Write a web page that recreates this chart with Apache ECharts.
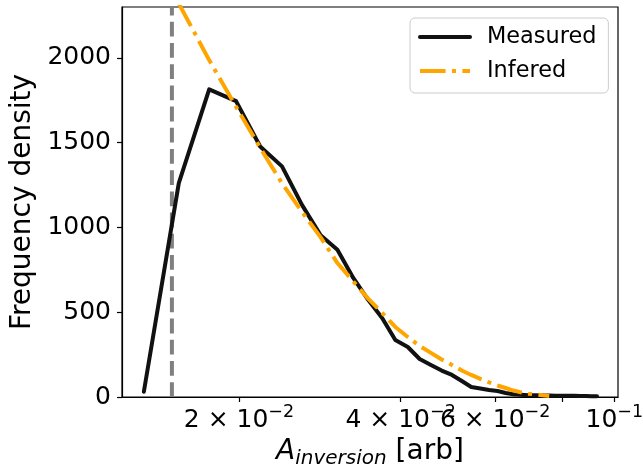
<!DOCTYPE html>
<html>
<head>
<meta charset="utf-8">
<script src="https://cdn.jsdelivr.net/npm/echarts@6/dist/echarts.min.js"></script>
<style>
  html, body { margin: 0; padding: 0; background: #fff; }
  #chart { width: 643px; height: 466px; }
</style>
</head>
<body>
<div id="chart"></div>
<script>
// Histogram bin centres (linear bins, shown on a log axis)
const binCentres = [
  0.0133, 0.01545, 0.0176, 0.01975, 0.0219, 0.02405, 0.0262, 0.02835, 0.0305, 0.03265,
  0.0348, 0.03695, 0.0391, 0.04125, 0.0434, 0.04555, 0.0477, 0.04985, 0.052, 0.05415,
  0.0563, 0.05845, 0.0606, 0.06275, 0.0649, 0.06705, 0.0692, 0.07135, 0.0735, 0.07565,
  0.0778, 0.07995, 0.0821, 0.08425, 0.0864, 0.08855, 0.0907, 0.09285
];

// Measured frequency density per bin
const measured = [
  31, 1261, 1814, 1745, 1477, 1360, 1133, 956, 868, 702,
  573, 466, 336, 295, 224, 189, 156, 130, 94, 59,
  50, 41, 35, 24, 16, 13, 11, 10, 9, 9,
  8, 8, 7, 7, 6, 6, 5, 5
];

// Inferred density, evaluated from the second bin onward
const inferred = [
  2320, 1987, 1712, 1470, 1260, 1092, 944, 790, 682, 580,
  496, 413, 354, 301, 260, 221, 189, 156, 130, 107,
  86, 68, 53, 38, 27, 19, 15, 10, 6
];
const inferredX = binCentres.slice(1, 1 + inferred.length);

// Detection threshold (vertical dashed line)
const threshold = 0.015;

// Axis ticks and labels
const xTickValues = [0.02, 0.04, 0.06, 0.08, 0.1];
const xLabelValues = [0.02, 0.04, 0.06, 0.1];
const xLabelParts = [['2 × 10', '−2'], ['4 × 10', '−2'], ['6 × 10', '−2'], ['10', '−1']];
const yTickValues = [0, 500, 1000, 1500, 2000];

const FONT = 'DejaVu Sans';

const chart = echarts.init(document.getElementById('chart'), null, { renderer: 'canvas' });

const axisLineStyle = { color: '#000', width: 1.2 };

chart.setOption({
  animation: false,
  backgroundColor: '#fff',
  grid: {
    left: 122, right: 25, top: 7, bottom: 69,
    outerBoundsMode: 'none',
    containLabel: false,
    show: true, borderColor: '#000', borderWidth: 1.2, backgroundColor: 'transparent'
  },
  xAxis: {
    type: 'log',
    logBase: 10,
    min: 0.01211,
    max: 0.1016,
    axisLine: { show: true, onZero: false, lineStyle: axisLineStyle },
    axisTick: { show: true, customValues: xTickValues, length: 5, lineStyle: axisLineStyle },
    minorTick: { show: false },
    splitLine: { show: false },
    axisLabel: {
      customValues: xLabelValues,
      margin: 6,
      hideOverlap: false,
      formatter: function (v) {
        const i = xLabelValues.findIndex(t => Math.abs(t - v) / t < 1e-6);
        if (i < 0) return '';
        return '{m|' + xLabelParts[i][0] + '}{s|' + xLabelParts[i][1] + '}';
      },
      rich: {
        m: { fontFamily: FONT, fontSize: 25, color: '#000', verticalAlign: 'bottom' },
        s: { fontFamily: FONT, fontSize: 17.5, color: '#000', verticalAlign: 'bottom', padding: [0, 0, 12, 0] }
      }
    },
    name: '{a|A}{sub|inversion}{r| [arb]}',
    nameLocation: 'middle',
    nameGap: 38,
    nameTextStyle: {
      rich: {
        a: { fontFamily: FONT, fontSize: 28, fontStyle: 'italic', color: '#000', verticalAlign: 'bottom', padding: [0, 0, 3, 0] },
        sub: { fontFamily: FONT, fontSize: 20, fontStyle: 'italic', color: '#000', verticalAlign: 'bottom' },
        r: { fontFamily: FONT, fontSize: 28, color: '#000', verticalAlign: 'bottom', padding: [0, 0, 3, 0] }
      }
    }
  },
  yAxis: {
    type: 'value',
    min: 0,
    max: 2300,
    axisLine: { show: true, onZero: false, lineStyle: axisLineStyle },
    axisTick: { show: true, customValues: yTickValues, length: 5, lineStyle: axisLineStyle },
    splitLine: { show: false },
    axisLabel: {
      customValues: yTickValues,
      margin: 11,
      fontFamily: FONT,
      fontSize: 25,
      color: '#000',
      formatter: v => String(v)
    },
    name: 'Frequency density',
    nameLocation: 'middle',
    nameGap: 80,
    nameTextStyle: { fontFamily: FONT, fontSize: 28, color: '#000' }
  },
  legend: {
    data: ['Measured', 'Infered'],
    orient: 'vertical',
    left: 410,
    top: 18,
    itemWidth: 50,
    itemHeight: 14,
    itemGap: 8,
    padding: [6, 12, 9, 8],
    borderColor: '#cccccc',
    borderWidth: 1,
    borderRadius: 5,
    backgroundColor: 'rgba(255,255,255,0.8)',
    itemStyle: { opacity: 0 },
    lineStyle: { width: 4 },
    textStyle: { fontFamily: FONT, fontSize: 22.4, color: '#000', lineHeight: 26, padding: [0, 0, 0, 12] }
  },
  series: [
    {
      name: 'threshold',
      type: 'line',
      data: [[threshold, 0], [threshold, 2300]],
      symbol: 'none',
      silent: true,
      z: 1,
      lineStyle: { color: '#808080', width: 4, type: [14.8, 6.4], cap: 'butt' }
    },
    {
      name: 'Measured',
      type: 'line',
      data: binCentres.map((x, i) => [x, measured[i]]),
      symbol: 'none',
      z: 2,
      itemStyle: { color: '#111' },
      lineStyle: { color: '#111', width: 4, join: 'round', cap: 'round' }
    },
    {
      name: 'Infered',
      type: 'line',
      data: inferredX.map((x, i) => [x, inferred[i]]),
      symbol: 'none',
      z: 3,
      itemStyle: { color: '#FFA500' },
      lineStyle: { color: '#FFA500', width: 4, type: [25.6, 6.4, 4, 6.4], cap: 'butt' }
    }
  ]
});
</script>
</body>
</html>
